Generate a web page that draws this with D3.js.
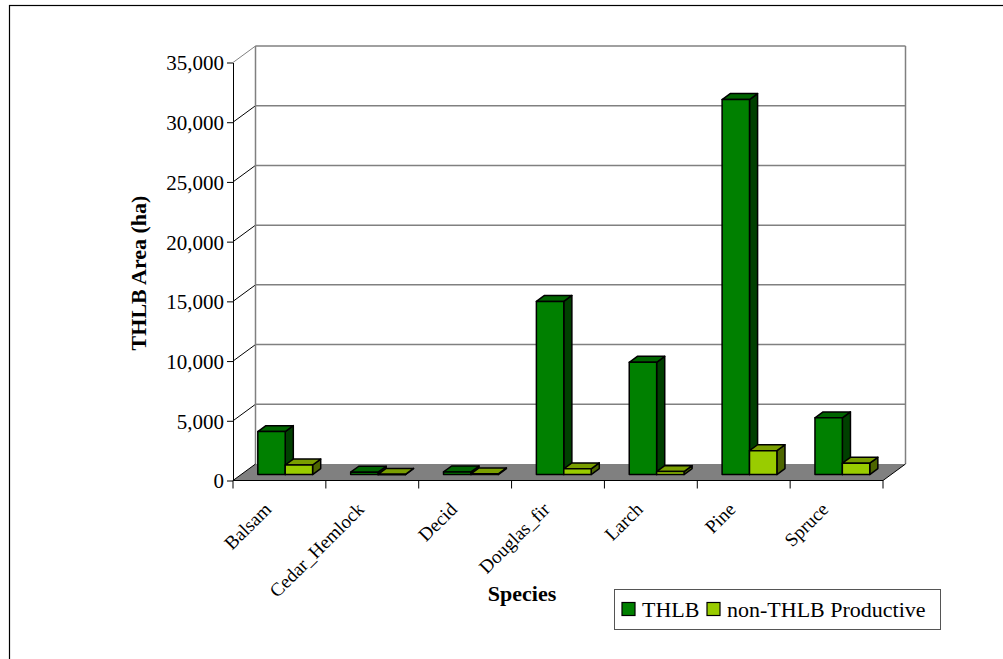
<!DOCTYPE html>
<html>
<head>
<meta charset="utf-8">
<script src="https://cdn.jsdelivr.net/npm/d3@7"></script>
<style>
  body { margin: 0; background: #fff; }
  svg text { font-family: "Liberation Serif", "Times New Roman", serif; fill: #000; }
</style>
</head>
<body>
<div id="chart"></div>
<script>
// species on the x axis
var species = ["Balsam", "Cedar_Hemlock", "Decid", "Douglas_fir", "Larch", "Pine", "Spruce"];
// hectares
var thlb = [3600, 200, 220, 14500, 9400, 31400, 4750];
var nonThlb = [800, 20, 60, 480, 250, 2000, 950];
var seriesNames = ["THLB", "non-THLB Productive"];
var yTicks = [0, 5000, 10000, 15000, 20000, 25000, 30000, 35000];

var svgWidth = 1003, svgHeight = 659;

// 3d look: how far the back wall sits from the front plane
var depthX = 22.5, depthY = -16.5;
var barFront = 0.36, barBack = 0.72;

var colors = {
  "THLB": { front: "#008000", top: "#006400", side: "#004000" },
  "non-THLB Productive": { front: "#99cc00", top: "#7a9e00", side: "#4d6600" }
};

var svg = d3.select("#chart").append("svg")
  .attr("width", svgWidth)
  .attr("height", svgHeight);

// outer frame (right and bottom edges are off the picture)
svg.append("rect")
  .attr("x", 9.5).attr("y", 5.5)
  .attr("width", 1010).attr("height", 700)
  .attr("fill", "none").attr("stroke", "#000").attr("stroke-width", 1.2);

var yScale = d3.scaleLinear().domain([0, 35000]).range([480.5, 62.5]);
var xScale = d3.scaleBand().domain(species).range([233, 883]).padding(0);
var xSeries = d3.scaleBand().domain(seriesNames)
  .range([xScale.bandwidth() * 0.18, xScale.bandwidth() * 0.77]).padding(0);

var x0 = xScale.range()[0], x1 = xScale.range()[1];

// floor
var y0 = yScale(0);
svg.append("polygon")
  .attr("points", [[x0, y0], [x1, y0], [x1 + depthX, y0 + depthY], [x0 + depthX, y0 + depthY]].join(" "))
  .attr("fill", "#808080");

// back wall gridlines
var grid = svg.append("g");
grid.selectAll(".gl").data(yTicks.slice(1)).enter().append("line")
  .attr("x1", x0 + depthX).attr("x2", x1 + depthX)
  .attr("y1", d => yScale(d) + depthY).attr("y2", d => yScale(d) + depthY)
  .attr("stroke", "#808080").attr("stroke-width", 1.5);
// side wall diagonals
grid.selectAll(".dg").data(yTicks.slice(1)).enter().append("line")
  .attr("x1", x0).attr("x2", x0 + depthX)
  .attr("y1", d => yScale(d)).attr("y2", d => yScale(d) + depthY)
  .attr("stroke", d => d === 35000 ? "#808080" : "#000").attr("stroke-width", 1);
// back wall verticals
[x0 + depthX, x1 + depthX].forEach(function(x) {
  grid.append("line")
    .attr("x1", x).attr("x2", x)
    .attr("y1", yScale(35000) + depthY).attr("y2", y0 + depthY)
    .attr("stroke", "#808080").attr("stroke-width", 1.5);
});
// floor side edges
grid.append("line")
  .attr("x1", x1).attr("y1", y0).attr("x2", x1 + depthX).attr("y2", y0 + depthY)
  .attr("stroke", "#000").attr("stroke-width", 1);
grid.append("line")
  .attr("x1", x0).attr("y1", y0).attr("x2", x0 + depthX).attr("y2", y0 + depthY)
  .attr("stroke", "#000").attr("stroke-width", 1);

// bars, drawn left to right so sides are covered properly
var bars = [];
species.forEach(function(s, i) {
  bars.push({ sp: s, series: "THLB", value: thlb[i] });
  bars.push({ sp: s, series: "non-THLB Productive", value: nonThlb[i] });
});

var barGroup = svg.append("g");
bars.forEach(function(b) {
  var fx0 = xScale(b.sp) + xSeries(b.series) + barFront * depthX;
  var fx1 = fx0 + xSeries.bandwidth();
  var fyb = yScale(0) + barFront * depthY;
  var fyt = yScale(b.value) + barFront * depthY;
  var dx = (barBack - barFront) * depthX, dy = (barBack - barFront) * depthY;
  var c = colors[b.series];
  var g = barGroup.append("g")
    .attr("stroke", "#000").attr("stroke-width", 1.5).attr("stroke-linejoin", "round");
  // side
  g.append("polygon")
    .attr("points", [[fx1, fyt], [fx1 + dx, fyt + dy], [fx1 + dx, fyb + dy], [fx1, fyb]].join(" "))
    .attr("fill", c.side);
  // top
  g.append("polygon")
    .attr("points", [[fx0, fyt], [fx0 + dx, fyt + dy], [fx1 + dx, fyt + dy], [fx1, fyt]].join(" "))
    .attr("fill", c.top);
  // front
  g.append("rect")
    .attr("x", fx0).attr("y", fyt)
    .attr("width", fx1 - fx0).attr("height", Math.max(fyb - fyt, 0.5))
    .attr("fill", c.front);
});

// y axis
var yAxis = d3.axisLeft(yScale)
  .tickValues(yTicks)
  .tickFormat(d3.format(","))
  .tickSize(6).tickSizeOuter(0).tickPadding(3);
var yg = svg.append("g").attr("transform", `translate(${x0},0)`).call(yAxis);
yg.selectAll("text").style("font-size", "21px").attr("dy", "0.35em");
yg.selectAll("line, path").attr("stroke", "#000");

// x axis: ticks at the category boundaries
var xg = svg.append("g");
var bounds = species.map(s => xScale(s)).concat([x1]);
xg.append("line").attr("x1", x0).attr("x2", x1).attr("y1", y0).attr("y2", y0).attr("stroke", "#000");
xg.selectAll(".tk").data(bounds).enter().append("line")
  .attr("x1", d => d).attr("x2", d => d)
  .attr("y1", y0).attr("y2", y0 + 8)
  .attr("stroke", "#000");
xg.selectAll(".lb").data(species).enter().append("text")
  .attr("transform", d => `translate(${xScale(d) + xScale.bandwidth() / 2 - 7},${y0 + 30}) rotate(-45)`)
  .attr("text-anchor", "end")
  .style("font-size", "19px")
  .text(d => d);

// axis titles
svg.append("text")
  .attr("transform", "translate(146,273) rotate(-90)")
  .attr("text-anchor", "middle")
  .style("font-size", "22px").style("font-weight", "bold")
  .text("THLB Area (ha)");
svg.append("text")
  .attr("x", 522).attr("y", 601)
  .attr("text-anchor", "middle")
  .style("font-size", "22px").style("font-weight", "bold")
  .text("Species");

// legend
var legend = svg.append("g").attr("transform", "translate(614,589)");
legend.append("rect")
  .attr("x", 0.5).attr("y", 0.5).attr("width", 326).attr("height", 40)
  .attr("fill", "#fff").attr("stroke", "#555").attr("stroke-width", 1);
var legendX = [8, 93];
seriesNames.forEach(function(name, i) {
  legend.append("rect")
    .attr("x", legendX[i]).attr("y", 13.5).attr("width", 13).attr("height", 13)
    .attr("fill", colors[name].front).attr("stroke", "#000").attr("stroke-width", 1.2);
  legend.append("text")
    .attr("x", legendX[i] + 20).attr("y", 28)
    .style("font-size", "22px")
    .text(name);
});
</script>
</body>
</html>
